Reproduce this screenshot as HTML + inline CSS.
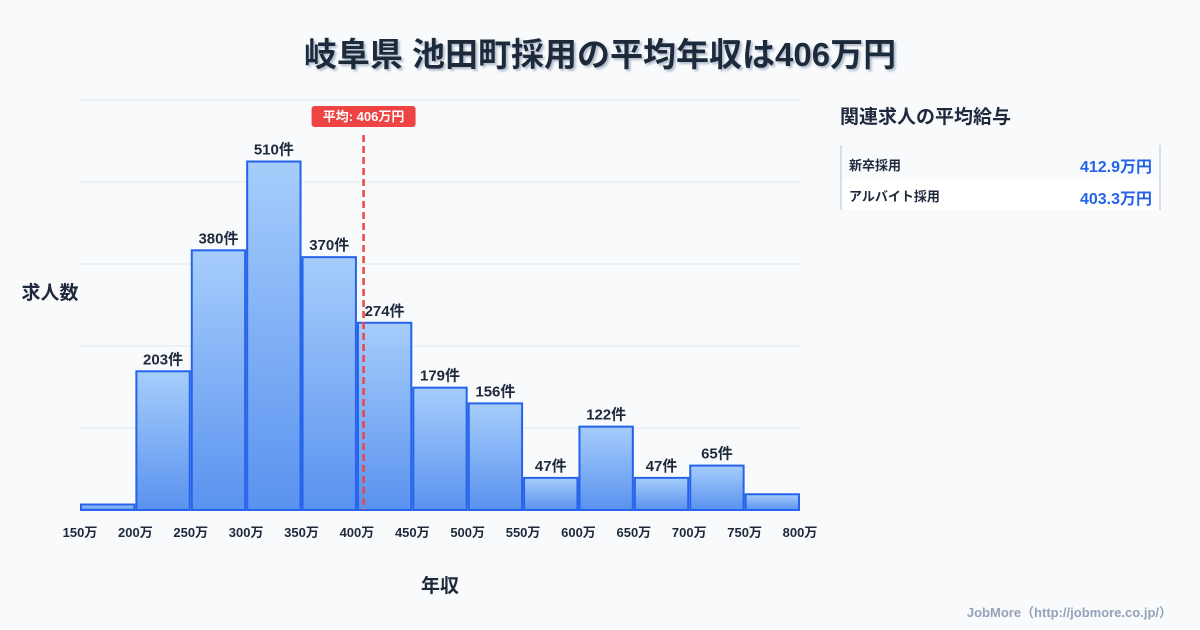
<!DOCTYPE html>
<html><head><meta charset="utf-8"><style>
body{margin:0;width:1200px;height:630px;background:#f8fafc;font-family:"Liberation Sans","Noto Sans CJK JP",sans-serif;overflow:hidden}
svg{display:block}
</style></head><body>
<svg id="c" width="1200" height="630">
<defs>
<linearGradient id="g" x1="0" y1="0" x2="0" y2="1"><stop offset="0" stop-color="#a6cdfb"/><stop offset="1" stop-color="#5a92ef"/></linearGradient>
<filter id="sh"><feDropShadow dx="2" dy="2" stdDeviation="1" flood-color="#94a3b8" flood-opacity="0.7"/></filter>
</defs>
<text x="600" y="66" text-anchor="middle" font-size="33" font-weight="bold" fill="#1e293b" filter="url(#sh)">岐阜県 池田町採用の平均年収は406万円</text>
<g id="grid"></g><g id="bars"></g><g id="labels"></g><g id="xt"></g>
<text x="50" y="299" text-anchor="middle" font-size="19" font-weight="bold" fill="#1e293b">求人数</text>
<text x="440" y="592" text-anchor="middle" font-size="19" font-weight="bold" fill="#1e293b">年収</text>
<g>
<text x="840" y="123" font-size="19" font-weight="bold" fill="#1e293b">関連求人の平均給与</text>
<rect x="841" y="180" width="319" height="30" fill="#ffffff"/>
<line x1="841" y1="145" x2="841" y2="210" stroke="#cbd5e1" stroke-width="1.5"/>
<line x1="1160" y1="145" x2="1160" y2="210" stroke="#cbd5e1" stroke-width="1.5"/>
<text x="849" y="170" font-size="13" font-weight="bold" fill="#1e293b">新卒採用</text>
<text x="1152" y="172" text-anchor="end" font-size="16" font-weight="bold" fill="#2563eb">412.9万円</text>
<text x="849" y="201" font-size="13" font-weight="bold" fill="#1e293b">アルバイト採用</text>
<text x="1152" y="204" text-anchor="end" font-size="16" font-weight="bold" fill="#2563eb">403.3万円</text>
</g>
<text x="1172" y="617" text-anchor="end" font-size="13" font-weight="bold" fill="#94a3b8">JobMore（http://jobmore.co.jp/）</text>
<g id="mean"></g>
</svg>
<script>
const binStarts=[150,200,250,300,350,400,450,500,550,600,650,700,750];
const counts=[8,203,380,510,370,274,179,156,47,122,47,65,23];
const showLabel=[false,true,true,true,true,true,true,true,true,true,true,true,false];
const xTicks=[150,200,250,300,350,400,450,500,550,600,650,700,750,800];
const yGrid=[0,120,240,360,480,600];
const meanVal=406;
const NS="http://www.w3.org/2000/svg";
const X=v=>80+(v-150)*720/650, Y=v=>510-v*410/600;
function mk(t,a,p){const e=document.createElementNS(NS,t);for(const k in a)e.setAttribute(k,a[k]);p.appendChild(e);return e;}
const G=document.getElementById('grid');
yGrid.forEach(v=>{const l=mk('line',{x1:80,x2:800,y1:Y(v),y2:Y(v),stroke:'#e2e8f0','stroke-width':1},G);

});
const B=document.getElementById('bars'),L=document.getElementById('labels');
binStarts.forEach((s,i)=>{const x0=X(s)+1,x1=X(s+50)-1,y=Y(counts[i]);
const r=mk('rect',{x:x0,y:y,width:x1-x0,height:510-y,fill:'url(#g)',stroke:'#2563eb','stroke-width':2},B);


if(showLabel[i]){const t=mk('text',{x:(x0+x1)/2,y:y-7,'text-anchor':'middle','font-size':15,'font-weight':'bold',fill:'#1e293b'},L);t.textContent=counts[i]+'件';

}});
const XT=document.getElementById('xt');
xTicks.forEach(v=>{const t=mk('text',{x:X(v),y:537,'text-anchor':'middle','font-size':13,'font-weight':'bold',fill:'#1e293b'},XT);t.textContent=v+'万';

});
const M=document.getElementById('mean'),mx=X(meanVal);
const ml=mk('line',{x1:mx,x2:mx,y1:135,y2:510,stroke:'#ef4444','stroke-width':2.5,'stroke-dasharray':'7,4'},M);


const mb=mk('rect',{x:mx-52,y:106,width:104,height:21,rx:3,fill:'#ef4444'},M);


const mt=mk('text',{x:mx,y:121,'text-anchor':'middle','font-size':13,'font-weight':'bold',fill:'#fff'},M);mt.textContent='平均: '+meanVal+'万円';


</script>
</body></html>
